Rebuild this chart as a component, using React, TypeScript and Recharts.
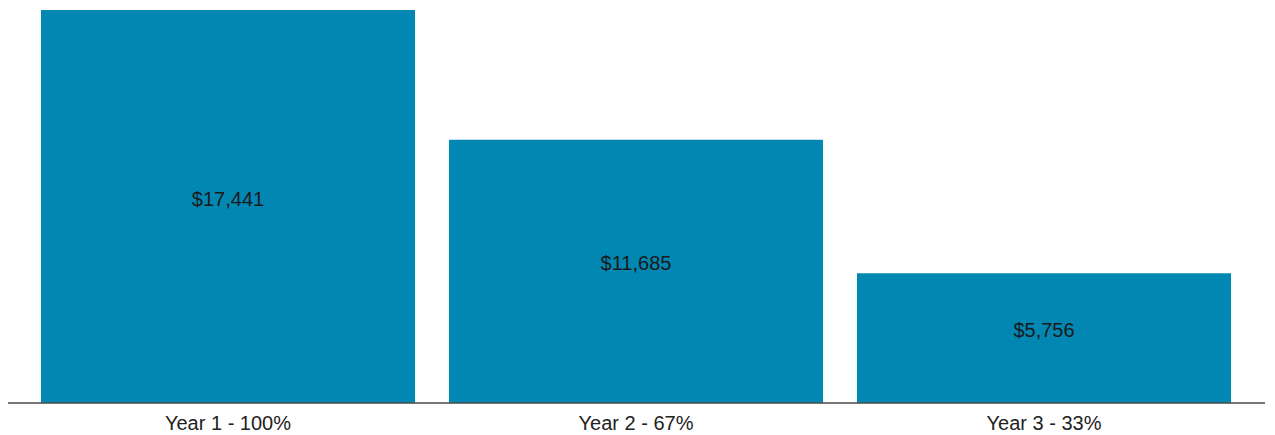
import React from "react";
import { BarChart, Bar, XAxis, YAxis, LabelList } from "recharts";

const categories = ["Year 1 - 100%", "Year 2 - 67%", "Year 3 - 33%"];
const values = [17441, 11685, 5756];

const data = categories.map((name, i) => ({ name, value: values[i] }));

const fmt = (v: number) => "$" + v.toLocaleString("en-US");
const FONT = "'Liberation Sans', Arial, sans-serif";

const CenterLabel = (props: any) => {
  const { x, y, width, height, value } = props;
  return (
    <text
      x={Number(x) + Number(width) / 2}
      y={Number(y) + Number(height) / 2 - 8}
      textAnchor="middle"
      dominantBaseline="central"
      fill="#1a1a1a"
      fontSize={20}
      fontFamily={FONT}
    >
      {fmt(Number(value))}
    </text>
  );
};

export default function App() {
  return (
    <div style={{ fontFamily: FONT }}>
      <BarChart
        width={1257}
        height={430}
        data={data}
        margin={{ top: 2, right: 0, bottom: 0, left: 0 }}
        barCategoryGap={17}
      >
        <XAxis
          dataKey="name"
          height={35}
          tickLine={false}
          tickMargin={7}
          axisLine={{ stroke: "#4a4a4a", strokeWidth: 1.5 }}
          padding={{ left: 16, right: 17 }}
          tick={{ fill: "#222", fontSize: 20, fontFamily: FONT }}
        />
        <YAxis hide domain={[0, 17441]} />
        <Bar dataKey="value" fill="#0287B2" isAnimationActive={false}>
          <LabelList dataKey="value" content={CenterLabel} />
        </Bar>
      </BarChart>
    </div>
  );
}
